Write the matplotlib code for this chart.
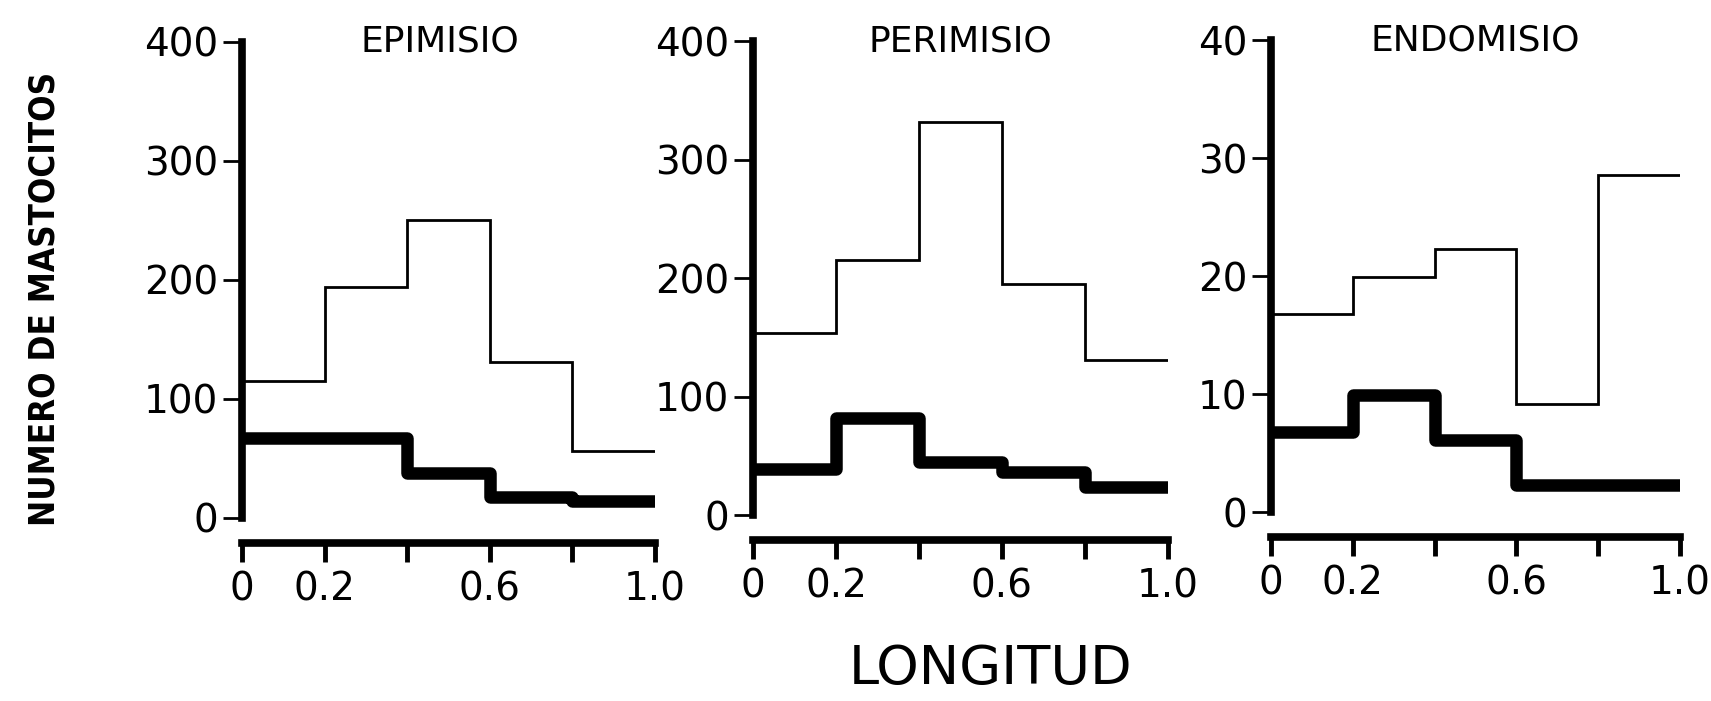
import matplotlib.pyplot as plt
import numpy as np

# mast cell counts along the muscle length, 5 segments of 0.2
edges = [0, 0.2, 0.4, 0.6, 0.8, 1.0]

titles = ['EPIMISIO', 'PERIMISIO', 'ENDOMISIO']

epi_thin = [115, 194, 250, 131, 56]
epi_thick = [67, 67, 38, 17.5, 14]

peri_thin = [154, 215, 332, 195, 131]
peri_thick = [39, 82, 45, 36, 24]

endo_thin = [16.8, 19.9, 22.3, 9.2, 28.6]
endo_thick = [6.8, 9.9, 6.1, 2.3, 2.3]

y_maxes = [400, 400, 40]
x_ticks = [0, 0.2, 0.4, 0.6, 0.8, 1.0]
x_ticklabels = ['0', '0.2', '', '0.6', '', '1.0']

thin_series = [epi_thin, peri_thin, endo_thin]
thick_series = [epi_thick, peri_thick, endo_thick]

# axes boxes in figure fractions
boxes = [
    [0.1414, 0.2611, 0.2414, 0.679],
    [0.4401, 0.2653, 0.2425, 0.676],
    [0.7428, 0.2696, 0.2390, 0.673],
]
title_x = [0.48, 0.50, 0.50]

fig = plt.figure(figsize=(17.11, 7.01), dpi=100)

for i in range(3):
    ax = fig.add_axes(boxes[i])
    ax.stairs(thin_series[i], edges, baseline=None, color='black', lw=2.0)
    ax.stairs(thick_series[i], edges, baseline=None, color='black', lw=9,
              joinstyle='round', capstyle='round')

    ymax = y_maxes[i]
    ax.set_ylim(0, ymax)
    ax.set_xlim(0, 1.0)
    ax.set_yticks(np.linspace(0, ymax, 5))
    ax.set_yticklabels([str(int(v)) for v in np.linspace(0, ymax, 5)])
    ax.set_xticks(x_ticks)
    ax.set_xticklabels(x_ticklabels)

    for s in ['top', 'right']:
        ax.spines[s].set_visible(False)
    ax.spines['left'].set_linewidth(5.5)
    ax.spines['bottom'].set_linewidth(5.5)
    ax.spines['bottom'].set_position(('outward', 18))

    ax.tick_params(axis='y', direction='out', length=14, width=2,
                   pad=3, labelsize=28)
    ax.tick_params(axis='x', direction='out', length=14, width=3.5,
                   pad=6, labelsize=28)

    ax.text(title_x[i], 1.0, titles[i], transform=ax.transAxes,
            ha='center', va='center', fontsize=26)

fig.text(0.026, 0.573, 'NUMERO DE MASTOCITOS', rotation=90,
         ha='center', va='center', fontsize=25, fontweight='bold',
         fontstretch='condensed')
fig.text(0.579, 0.045, 'LONGITUD', ha='center', va='center', fontsize=39)

plt.savefig('out.png', dpi=100)
